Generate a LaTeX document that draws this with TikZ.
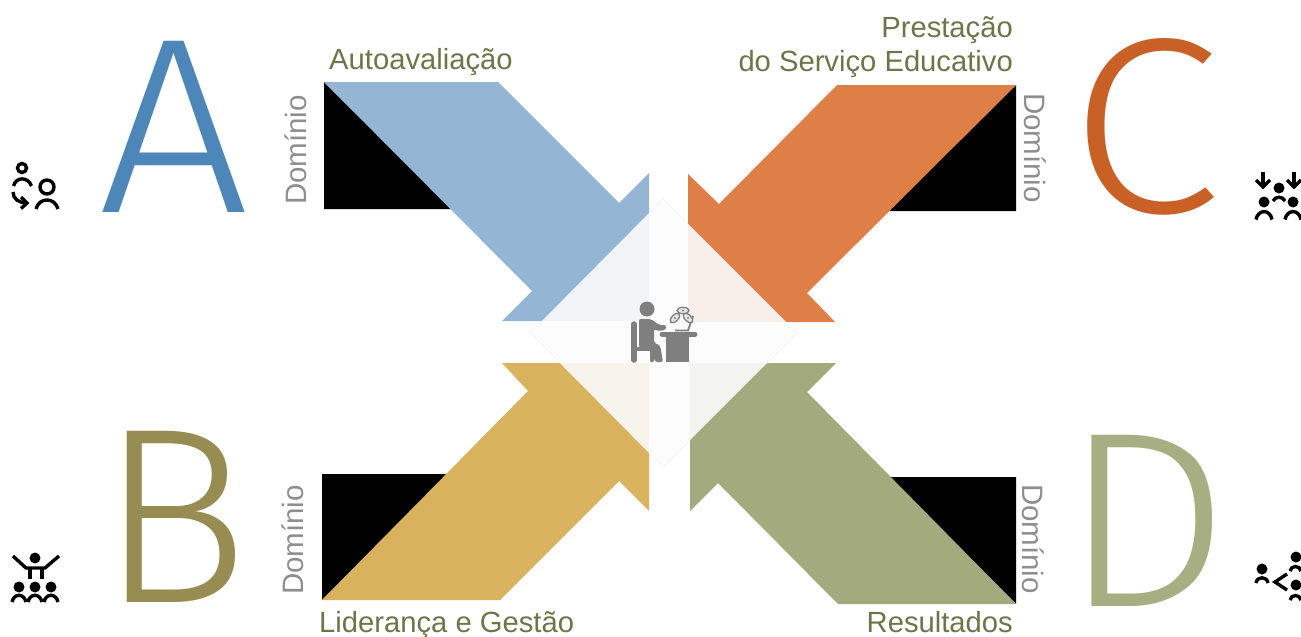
\documentclass[tikz,border=0pt]{standalone}
\usepackage{fontspec}
\usepackage{graphicx}
\setmainfont{Liberation Sans}
\newfontfamily\bigfont{Fira Sans Light}
\definecolor{cblue}{HTML}{94B5D3}
\definecolor{corange}{HTML}{DD7F47}
\definecolor{cgold}{HTML}{D8B25C}
\definecolor{cgreen}{HTML}{A3AA7E}
\definecolor{la}{HTML}{4D86B8}
\definecolor{lb}{HTML}{978C52}
\definecolor{lc}{HTML}{C96127}
\definecolor{ld}{HTML}{A7AF82}
\definecolor{olive}{HTML}{6F7548}
\definecolor{dgray}{HTML}{8E8E8E}
\definecolor{icong}{HTML}{7F7F7F}
\tikzset{
 title/.style={text=olive,font=\fontsize{29.2}{35}\selectfont,inner sep=0pt,align=right},
 dom/.style={text=dgray,font=\fontsize{29.5}{35}\selectfont,inner sep=0pt},
 bigl/.style={font=\bigfont\fontsize{250}{250}\selectfont,inner sep=0pt,anchor=base},
 ic/.style={line width=3.4pt,line cap=butt},
 ringp/.style={draw=black,line width=3.4pt,fill=none},
}
\begin{document}
\begin{tikzpicture}[x=1pt,y=-1pt]
\useasboundingbox (0,0) rectangle (1301,637);
% black triangles
\fill[black] (324,82) -- (324,209) -- (452,209) -- cycle;
\fill[black] (1016,85) -- (1016,211) -- (889,211) -- cycle;
\fill[black] (322,600) -- (322,474) -- (449,474) -- cycle;
\fill[black] (1016,604) -- (1016,477) -- (889,477) -- cycle;
% arrows
\fill[cblue] (324,82) -- (498,82) -- (619,203) -- (649,173) -- (649,321) -- (502,321) -- (532,291) -- cycle;
\fill[corange] (1016,85) -- (837,85) -- (719,204) -- (688,174) -- (688,322) -- (835,322) -- (807,293) -- cycle;
\fill[cgold] (322,600) -- (528,391) -- (502,363) -- (649,363) -- (649,511) -- (619,481) -- (500,600) -- cycle;
\fill[cgreen] (1016,604) -- (807,392) -- (836,363) -- (690,363) -- (690,511) -- (718,483) -- (838,604) -- cycle;
% diamond
\fill[white!98.8!black,opacity=.9] (663,199) -- (797,333) -- (663,467) -- (530,333) -- cycle;
\draw[white!95!black,line width=.4pt] (530,333) -- (542,321) (797,333) -- (785,322) (530,333) -- (560,363) (797,333) -- (768,363) (663,199) -- (649,213) (663,199) -- (688,224) (663,467) -- (649,452) (663,467) -- (690,441);
% big letters
\node[bigl,text=la] (letterA) at (174,212) {\scalebox{1.07}[1]{A}};
\node[bigl,text=lb] (letterB) at (174,602) {B};
\node[bigl,text=lc] (letterC) at (1145,212) {\scalebox{1.1}[1]{C}};
\node[bigl,text=ld] (letterD) at (1146,606) {\scalebox{1.06}[1]{D}};
% titles
\node[title,anchor=base west] (t1) at (329,69) {Autoavaliação};
\node[title,anchor=base east] (t2a) at (1013,37) {Prestação};
\node[title,anchor=base east] (t2b) at (1013,71) {do Serviço Educativo};
\node[title,anchor=base west] (t3) at (319,632) {Liderança e Gestão};
\node[title,anchor=base east] (t4) at (1013,632) {Resultados};
% Domínio
\node[dom,rotate=90] (d1) at (296,150) {Domínio};
\node[dom,rotate=90] (d2) at (293,540) {Domínio};
\node[dom,rotate=-90] (d3) at (1035,148) {Domínio};
\node[dom,rotate=-90] (d4) at (1033,539) {Domínio};
% centre icon
\fill[icong] (647,309) circle (7.5);
\draw[icong,line width=5.5pt,line cap=round] (634,324) -- (634,360);
\draw[icong,line width=4.5pt,line cap=round] (634,349) -- (652,349) -- (652,360);
\fill[icong,rounded corners=2pt] (639,319) -- (651,319) -- (659,325) -- (666,325) -- (666,330) -- (657,331) -- (654,329) -- (654,343) -- (660,345) -- (663,362) -- (655,362) -- (652,351) -- (639,348) -- cycle;
\fill[icong] (666,335) rectangle (689,362);
\draw[icong,line width=5pt,line cap=round] (662,334) -- (695,334);
\draw[icong,line width=1.8pt] (675,330.5) -- (688,330.5) -- (693,316);
\foreach \x/\y/\a in {675/318/45,683/310.5/0,688/318/-45}{
 \draw[icong,fill=white!90!black,line width=1.3pt,rotate around={\a:(\x,\y)}] (\x,\y) ellipse (6 and 3.2);
 \fill[icong] (\x,\y) circle (1.2);
}
% Icon A
\draw[ringp] (22,168) circle (4.5);
\draw[ic] (13.5,186) .. controls (16,176.5) and (28,176.5) .. (31.5,186);
\draw[ringp] (47,187) circle (7);
\draw[ic] (36,209) .. controls (39,197) and (55,197) .. (58,209);
\draw[ic] (13,192) .. controls (13,199) and (19,203) .. (27,203);
\draw[ic] (21,197) -- (27,203) -- (21,208.5);
% Icon B
\fill (35,558) circle (5.5);
\draw[ic] (13,556) -- (26,568) -- (45,568) -- (59,556);
\draw[ic] (30,568) -- (30,579) (42,568) -- (42,579);
\foreach \x in {19,35,51}{
 \fill (\x,587) circle (5.5);
 \draw[ic] (\x-7,602) .. controls (\x-5,593) and (\x+5,593) .. (\x+7,602);
}
% Icon C
\draw[ic] (1263,172) -- (1263,186);
\draw[ic] (1256,180) -- (1263,187) -- (1270,180);
\draw[ic] (1294,172) -- (1294,186);
\draw[ic] (1287,180) -- (1294,187) -- (1301,180);
\fill (1279,188) circle (5.5);
\draw[ic] (1273,201) .. controls (1275,196) and (1283,196) .. (1285,201);
\fill (1264,202) circle (5.5);
\fill (1293,202) circle (5.5);
\draw[ic] (1256,219.5) .. controls (1258,209) and (1270,209) .. (1272,219.5);
\draw[ic] (1285,219.5) .. controls (1287,209) and (1299,209) .. (1301,219.5);
% Icon D
\fill (1262,569) circle (5.5);
\draw[ic] (1256,583) .. controls (1257,576) and (1267,576) .. (1268,583);
\draw[ic] (1287,574) -- (1275,582) -- (1287,590);
\fill (1296,557) circle (5.5);
\draw[ic] (1290,571) .. controls (1291,565) and (1300,565) .. (1301,571);
\fill (1296,585) circle (5.5);
\draw[ic] (1290,600) .. controls (1291,594) and (1300,594) .. (1301,600);
\end{tikzpicture}
\end{document}
